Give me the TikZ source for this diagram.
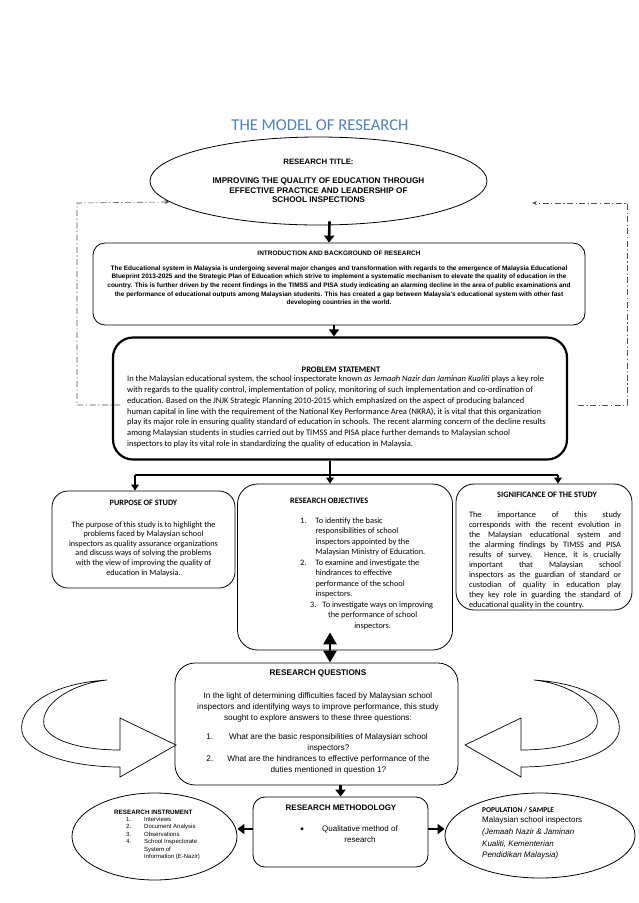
\documentclass[tikz,border=0pt]{standalone}
\usepackage{fontspec}
\setmainfont{Carlito}
\newfontfamily\arialfont{Liberation Sans}
\usetikzlibrary{arrows.meta,shapes.geometric,calc}
\definecolor{headblue}{HTML}{4F81BD}
\definecolor{loopgrey}{HTML}{505050}
\tikzset{
  roundbox/.style   = {draw, rounded corners=14pt, line width=0.8pt},
  heavybox/.style   = {draw, rounded corners=20pt, line width=2.2pt},
  ovalbox/.style    = {draw, ellipse, line width=0.8pt, inner sep=0pt},
  bigarrow/.style   = {line width=2.6pt, -{Triangle[length=7pt,width=10pt]}},
  forkarrow/.style  = {line width=1.6pt, -{Triangle[length=6pt,width=7.5pt]}},
  forkline/.style   = {line width=1.6pt},
  loopline/.style   = {loopgrey, line width=0.6pt,
                       dash pattern=on 6pt off 2.5pt on 1.2pt off 2.5pt,
                       -{Stealth[length=5pt,width=4pt]}},
  curlarrow/.style  = {draw, fill=white, line width=0.7pt},
  every node/.style = {inner sep=0pt},
}
\begin{document}
\begin{tikzpicture}[x=1pt,y=-1pt]
  \useasboundingbox (0,0) rectangle (638,903);
  % heading
  \node[text=headblue, font=\fontsize{16.6}{19}\selectfont, anchor=base] (heading) at (320,130) {THE MODEL OF RESEARCH};
  % research title
  \node[ovalbox, minimum width=337pt, minimum height=88pt, align=center,
        font=\arialfont\bfseries\fontsize{8.2}{9.5}\selectfont] (title) at (318.5,181)
    {{\fontsize{7.8}{9.5}\selectfont RESEARCH TITLE:}\\[9.5pt] IMPROVING THE QUALITY OF EDUCATION THROUGH\\
     EFFECTIVE PRACTICE AND LEADERSHIP OF\\ SCHOOL INSPECTIONS};
  % introduction
  \node[roundbox, rounded corners=12pt, minimum width=492pt, minimum height=82pt] (intro) at (339,284) {};
  \node[font=\arialfont\bfseries\fontsize{6.45}{8.7}\selectfont, align=center, anchor=north] (introtext) at (339,250.3)
    {INTRODUCTION AND BACKGROUND OF RESEARCH\\[6.3pt]
     The Educational system in Malaysia is undergoing several major changes and transformation with regards to the emergence of Malaysia Educational\\
     Blueprint 2013-2025 and the Strategic Plan of Education which strive to implement a systematic mechanism to elevate the quality of education in the\\
     country. This is further driven by the recent findings in the TIMSS and PISA study indicating an alarming decline in the area of public examinations and\\
     the performance of educational outputs among Malaysian students. This has created a gap between Malaysia's educational system with other fast\\
     developing countries in the world.};
  % problem statement
  \node[heavybox, minimum width=454pt, minimum height=122pt] (problem) at (340,398.5) {};
  \node[font=\bfseries\fontsize{8.5}{10.7}\selectfont, anchor=base] (probhead) at (341,372) {PROBLEM STATEMENT};
  \node[font=\fontsize{8.5}{10.7}\selectfont, align=left, anchor=north west] (probtext) at (127,375.8)
    {In the Malaysian educational system, the school inspectorate known \textit{as Jemaah Nazir dan Jaminan Kualiti} plays a key role\\
     with regards to the quality control, implementation of policy, monitoring of such implementation and co-ordination of\\
     education. Based on the JNJK Strategic Planning 2010-2015 which emphasized on the aspect of producing balanced\\
     human capital in line with the requirement of the National Key Performance Area (NKRA), it is vital that this organization\\
     play its major role in ensuring quality standard of education in schools. The recent alarming concern of the decline results\\
     among Malaysian students in studies carried out by TIMSS and PISA place further demands to Malaysian school\\
     inspectors to play its vital role in standardizing the quality of education in Malaysia.};
  % purpose
  \node[roundbox, rounded corners=16pt, minimum width=183pt, minimum height=97pt] (purpose) at (143.5,539.5) {};
  \node[font=\fontsize{8.2}{9.6}\selectfont, align=center, anchor=north] (purptext) at (143.5,499.5)
    {\textbf{PURPOSE OF STUDY}\\[12.4pt]
     The purpose of this study is to highlight the\\ problems faced by Malaysian school\\
     inspectors as quality assurance organizations\\ and discuss ways of solving the problems\\
     with the view of improving the quality of\\ education in Malaysia.};
  % objectives
  \node[roundbox, rounded corners=20pt, minimum width=215pt, minimum height=166pt] (objectives) at (345,567) {};
  \node[font=\bfseries\fontsize{8.3}{10}\selectfont, anchor=base west] (objhead) at (290,503) {RESEARCH OBJECTIVES};
  \node[font=\fontsize{8.3}{10.5}\selectfont, anchor=north west] (objlist) at (300,515.6)
    {\begin{tabular}{@{}l@{\hspace{9pt}}l@{}}
       1. & To identify the basic\\
          & responsibilities of school\\
          & inspectors appointed by the\\
          & Malaysian Ministry of Education.\\
       2. & To examine and investigate the\\
          & hindrances to effective\\
          & performance of the school\\
          & inspectors.\\
       \multicolumn{2}{@{}l@{}}{\hspace{10pt}3.\hspace{6pt}To investigate ways on improving}\\
       \multicolumn{2}{@{}c@{}}{\hspace{12pt}the performance of school}\\
       \multicolumn{2}{@{}c@{}}{\hspace{12pt}inspectors.}
     \end{tabular}};
  % significance
  \node[roundbox, rounded corners=18pt, minimum width=176pt, minimum height=126pt] (signif) at (544,547) {};
  \node[font=\bfseries\fontsize{8.3}{10}\selectfont, anchor=base] (sighead) at (547,497) {SIGNIFICANCE OF THE STUDY};
  \node[font=\fontsize{8.3}{9.9}\selectfont, text width=152pt, align=justify, anchor=north] (sigtext) at (545,512)
    {The importance of this study\linebreak
     corresponds with the recent evolution in\linebreak
     the Malaysian educational system and\linebreak
     the alarming findings by TIMSS and PISA\linebreak
     results of survey. Hence, it is crucially\linebreak
     important that Malaysian school\linebreak
     inspectors as the guardian of standard or\linebreak
     custodian of quality in education play\linebreak
     they key role in guarding the standard of\linebreak
     educational quality in the country.};
  % research questions
  \node[roundbox, rounded corners=20pt, minimum width=283pt, minimum height=122pt] (questions) at (316.5,724) {};
  \node[font=\arialfont\fontsize{8.2}{11}\selectfont, align=center, anchor=north] (qtext) at (318,670)
    {\textbf{RESEARCH QUESTIONS}\\[11.8pt]
     In the light of determining difficulties faced by Malaysian school\\
     inspectors and identifying ways to improve performance, this study\\
     sought to explore answers to these three questions:\\[7.8pt]
     \begin{tabular}[t]{@{}l@{\hspace{14pt}}c@{}}
       1. & What are the basic responsibilities of Malaysian school\\
          & inspectors?\\
       2. & What are the hindrances to effective performance of the\\
          & duties mentioned in question 1?
     \end{tabular}};
  % methodology
  \node[roundbox, rounded corners=12pt, minimum width=175pt, minimum height=70pt] (method) at (340.5,832) {};
  \node[font=\arialfont\bfseries\fontsize{8}{10}\selectfont, anchor=base] (mhead) at (341,810) {RESEARCH METHODOLOGY};
  \node[font=\fontsize{8}{10}\selectfont, anchor=base] (mbullet) at (302,831) {\textbullet};
  \node[font=\arialfont\fontsize{8}{11}\selectfont, align=center, anchor=north] (mtext) at (360,825)
    {Qualitative method of\\ research};
  % instrument
  \node[ovalbox, minimum width=165pt, minimum height=87pt] (instrument) at (154.5,836.5) {};
  \node[font=\arialfont\fontsize{6}{7.4}\selectfont, anchor=north west] (itext) at (114,808.8)
    {\begin{tabular}{@{\hspace{12pt}}l@{\hspace{13pt}}l@{}}
       \multicolumn{2}{@{}l@{}}{\bfseries\fontsize{6.3}{7.4}\selectfont RESEARCH INSTRUMENT}\\
       1. & Interviews\\
       2. & Document Analysis\\
       3. & Observations\\
       4. & School Inspectorate\\
          & System of\\
          & Information (E-Nazir)
     \end{tabular}};
  % population
  \node[ovalbox, minimum width=190pt, minimum height=85pt] (population) at (540,835.5) {};
  \node[font=\arialfont\fontsize{8}{11.6}\selectfont, align=left, anchor=north west] (ptext) at (482,807.5)
    {{\rmfamily\bfseries\fontsize{7.4}{9}\selectfont POPULATION / SAMPLE}\\[-1.6pt]
     Malaysian school inspectors\\
     \textit{(Jemaah Nazir \& Jaminan}\\
     \textit{Kualiti, Kementerian}\\
     \textit{Pendidikan Malaysia)}};
  % main arrows
  \draw[bigarrow] ([xshift=11pt,yshift=4pt]title.south) -- ([xshift=-10pt]intro.north);
  \draw[bigarrow] ([xshift=-5pt]intro.south) -- ([xshift=-6pt]problem.north);
  \coordinate (split) at (330,475);
  \coordinate (forkL) at (135,475);
  \coordinate (forkR) at (558,475);
  \draw[forkline] (problem.south -| split) -- (split);
  \draw[forkline] (forkL) -- (forkR);
  \draw[forkarrow] (forkL) -- (forkL |- purpose.north);
  \draw[forkarrow] (split) -- (split |- objectives.north);
  \draw[forkarrow] (forkR) -- (forkR |- signif.north);
  \draw[line width=2.6pt, {Triangle[length=12pt,width=13pt]}-{Triangle[length=12pt,width=13pt]}]
    ([xshift=-15pt,yshift=18pt]objectives.south) -- ([xshift=13.5pt]questions.north);
  \draw[bigarrow] (method.north |- questions.south) -- (method.north);
  \draw[bigarrow] ([yshift=3pt]method.west) -- ([yshift=3pt]method.west -| instrument.east);
  \draw[bigarrow] ([yshift=3pt]method.east) -- ([yshift=3pt]method.east -| population.west);
  % feedback loops
  \coordinate (loopL) at (120,405);
  \coordinate (loopR) at (578,405);
  \coordinate (loopTip) at (532,203);
  \draw[loopline] (loopL) -- (77,405) -- (77,203) -- (title.188);
  \draw[loopline] (loopR) -- (627,405) -- (627,203) -- (loopTip);
  % curved arrows
  \draw[curlarrow] (107,680) .. controls (45,684) and (18,710) .. (22,732)
    .. controls (27,755) and (75,767) .. (120,767) -- (120,777) -- (176,745) -- (120,718) -- (120,750)
    .. controls (80,750) and (48,740) .. (44,725) .. controls (40,705) and (70,684) .. (107,680) -- cycle;
  \begin{scope}[xshift=641pt, xscale=-1]
    \draw[curlarrow] (107,680) .. controls (45,684) and (18,710) .. (22,732)
      .. controls (27,755) and (75,767) .. (120,767) -- (120,777) -- (176,745) -- (120,718) -- (120,750)
      .. controls (80,750) and (48,740) .. (44,725) .. controls (40,705) and (70,684) .. (107,680) -- cycle;
  \end{scope}
\end{tikzpicture}
\end{document}
